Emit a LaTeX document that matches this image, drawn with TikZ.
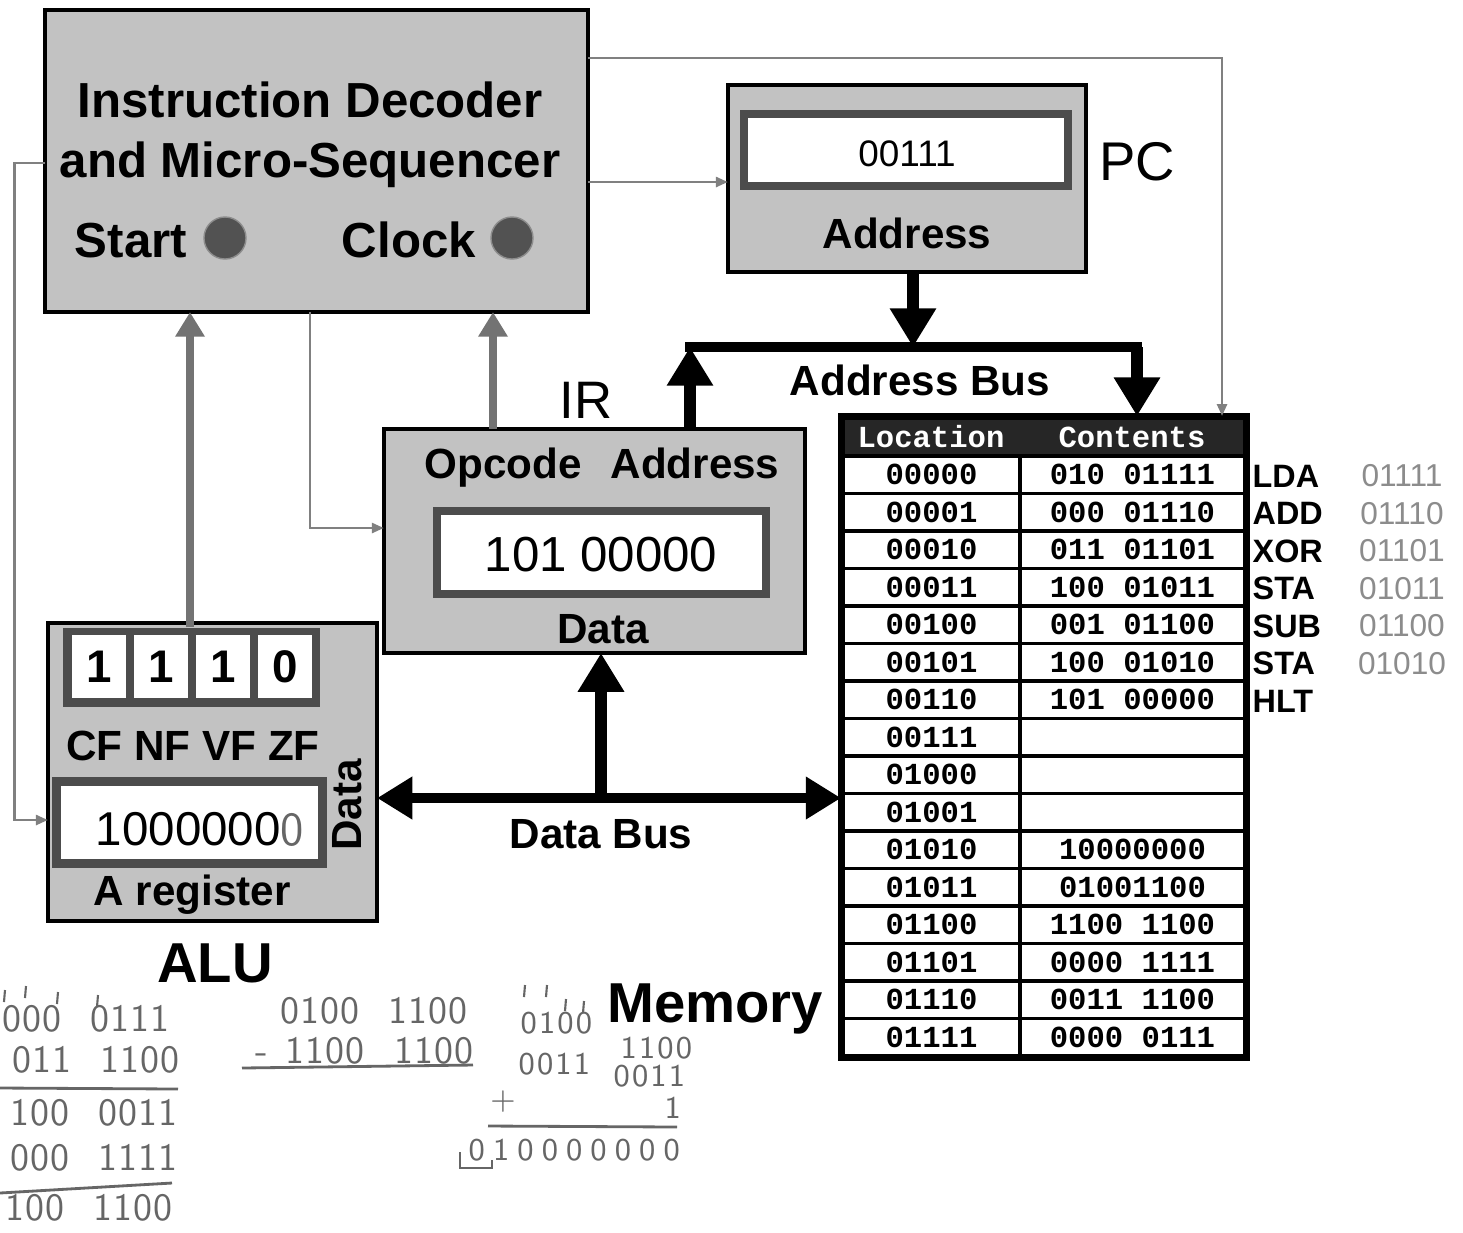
\documentclass[tikz,border=0pt]{standalone}
\usepackage{fontspec}
\setmainfont{Liberation Sans}
\setmonofont{Liberation Mono}
\usetikzlibrary{arrows.meta,positioning}

\definecolor{panel}{gray}{0.76}
\definecolor{frame}{gray}{0.30}
\definecolor{wire}{gray}{0.50}
\definecolor{pencil}{gray}{0.40}

% pencil digits, spread out; / is a wider gap
\newcommand\pencilrow[2][0.3pt]{\def\pencilgap{\hskip#1\relax}\pencilstep#2\relax}
\def\pencilstep#1{\ifx\relax#1\else\ifx/#1\hskip8pt\relax\else#1\pencilgap\fi\expandafter\pencilstep\fi}

\tikzset{
  unit/.style={draw=black, line width=1.3pt, fill=panel, inner sep=0pt, outer sep=0pt},
  reg/.style={draw=frame, line width=2.4pt, fill=white, inner sep=0pt, outer sep=0pt},
  lbl/.style={inner sep=0pt, anchor=base, font=\bfseries\fontsize{12}{14}\selectfont},
  plain/.style={inner sep=0pt, anchor=base, font=\fontsize{15.5}{17}\selectfont},
  lamp/.style={circle, fill=black!68, draw=black!45, minimum size=0.42cm, inner sep=0pt},
  cell/.style={draw=black, line width=1.1pt, fill=white, minimum height=0.375cm, inner sep=0pt,
    font=\ttfamily\bfseries\fontsize{8.7}{10}\selectfont},
  hand/.style={inner sep=0pt, anchor=base west, text=pencil, font=\sffamily\fontsize{11}{13}\selectfont},
  smallhand/.style={hand, font=\sffamily\fontsize{9}{11}\selectfont},
  ctrl/.style={draw=wire, line width=0.8pt, -{Triangle[width=2.8pt,length=3.4pt]}},
  fat/.style={draw=black!55, line width=2.3pt, -{Triangle[width=8pt,length=7pt]}},
  busline/.style={draw=black, line width=2.7pt, line cap=rect},
  bigarrow/.style={draw=black, line width=3.4pt, -{Triangle[width=12.5pt,length=11pt]}},
  databus/.style={draw=black, line width=2.8pt, {Triangle[width=11.5pt,length=10pt]}-{Triangle[width=11.5pt,length=10pt]}},
  stroke/.style={draw=pencil, line width=0.6pt}
}

\begin{document}
\begin{tikzpicture}[x=0.01cm, y=-0.01cm]
  \fill[white] (0,0) rectangle (1463,1232);
  \useasboundingbox (0,0) rectangle (1463,1232);

  %decoder
  \node[unit, minimum width=5.43cm, minimum height=3.02cm] (dec) at (316.5,161) {};
  \node[lbl, font=\bfseries\fontsize{14}{16}\selectfont] (decA) at (310,117) {Instruction Decoder};
  \node[lbl, font=\bfseries\fontsize{14}{16}\selectfont] (decB) at (310,177) {and Micro-Sequencer};
  \node[lbl, font=\bfseries\fontsize{14}{16}\selectfont] (start) at (131,257) {Start};
  \node[lamp] (startlamp) at (225,238) {};
  \node[lbl, font=\bfseries\fontsize{14}{16}\selectfont] (clock) at (409,257) {Clock};
  \node[lamp] (clocklamp) at (512,238) {};

  %program counter
  \node[unit, minimum width=3.58cm, minimum height=1.87cm] (pc) at (907,178.5) {};
  \node[reg, minimum width=3.24cm, minimum height=0.72cm] (pcreg) at (906,150) {};
  \node[inner sep=0pt, anchor=base, font=\fontsize{10.5}{12}\selectfont] (pcval) at (907,166) {00111};
  \node[lbl] (pcaddr) at (907,248) {Address};
  \node[plain] (pcname) at (1137,180) {PC};

  %instruction register
  \node[unit, minimum width=4.21cm, minimum height=2.24cm] (ir) at (594.5,541) {};
  \node[reg, minimum width=3.29cm, minimum height=0.83cm] (irreg) at (601.5,552.5) {};
  \node[plain, font=\fontsize{15}{17}\selectfont] (irname) at (586,418) {IR};
  \node[lbl] (opc) at (503,478) {Opcode};
  \node[lbl] (opa) at (695,478) {Address};
  \node[inner sep=0pt, anchor=base, font=\fontsize{14}{16}\selectfont] (irval) at (601,571) {101 00000};
  \node[lbl] (irdata) at (603,643) {Data};

  %ALU with flags and A register
  \node[unit, minimum width=3.29cm, minimum height=2.98cm] (alu) at (212.5,772) {};
  \node[fill=frame, minimum width=2.57cm, minimum height=0.79cm, inner sep=0pt] (flags) at (191.5,667.5) {};
  \foreach \bit [count=\k from 0] in {1,1,1,0}
    \node[fill=white, minimum width=0.54cm, minimum height=0.63cm, inner sep=0pt,
      font=\bfseries\fontsize{13}{15}\selectfont] (flag\k) at ({99+62*\k},666.5) {\bit};
  \node[lbl] (flagnames) at (193,760) {CF NF VF ZF};
  \node[reg, line width=2.6pt, minimum width=2.66cm, minimum height=0.82cm] (areg) at (189.5,822.5) {};
  \node[inner sep=0pt, anchor=base, font=\fontsize{13.5}{15}\selectfont] (aval) at (200,845)
    {1000000\textcolor{pencil}{\sffamily 0}};
  \node[lbl, anchor=center, rotate=90] (adata) at (347,805) {Data};
  \node[lbl] (aname) at (192,905) {A register};
  \node[lbl, font=\bfseries\fontsize{16}{18}\selectfont] (aluname) at (215,982) {ALU};

  %memory
  \node[fill=black!85, draw=black, line width=1.1pt, minimum width=4.02cm, minimum height=0.38cm,
    inner sep=0pt] (memhead) at (1044,437) {};
  \node[text=white, font=\ttfamily\bfseries\fontsize{8.7}{10}\selectfont] (loch) at (931,437) {Location};
  \node[text=white, font=\ttfamily\bfseries\fontsize{8.7}{10}\selectfont] (valh) at (1132,437) {Contents};
  \foreach \loc/\val [count=\r from 0] in {00000/010 01111, 00001/000 01110, 00010/011 01101,
      00011/100 01011, 00100/001 01100, 00101/100 01010, 00110/101 00000, 00111/{},
      01000/{}, 01001/{}, 01010/10000000, 01011/01001100, 01100/1100 1100,
      01101/0000 1111, 01110/0011 1100, 01111/0000 0111}{
    \node[cell, minimum width=1.77cm] (loc\r) at (931.5,{474.75+37.5*\r}) {\loc};
    \node[cell, minimum width=2.25cm] (val\r) at (1132.5,{474.75+37.5*\r}) {\val};
  }
  \draw[line width=1.6pt] (memhead.north west) rectangle (val15.south east);
  \foreach \op/\arg [count=\r from 0] in {LDA/01111, ADD/01110, XOR/01101, STA/01011,
      SUB/01100, STA/01010, HLT/{}}{
    \node[inner sep=0pt, anchor=west, font=\bfseries\fontsize{9.2}{11}\selectfont] (op\r)
      at (1252,{476+37.5*\r}) {\op};
    \node[inner sep=0pt, text=black!45, font=\fontsize{9}{11}\selectfont] (arg\r)
      at (1402,{476+37.5*\r}) {\arg};
  }
  \node[lbl, font=\bfseries\fontsize{16}{18}\selectfont] (memname) at (715,1022) {Memory};

  %control lines
  \draw[ctrl] (dec.east |- 0,58) -| ([xshift=-0.25cm]memhead.north east);
  \draw[ctrl] (dec.east |- 0,182) -- (pc.west |- 0,182);
  \draw[ctrl] (dec.west |- 0,163) -- ++(-30,0) |- (alu.west |- 0,820);
  \draw[ctrl] (dec.south -| 310,0) |- (ir.west |- 0,528);
  \draw[fat] (flags.north -| 190,0) -- (dec.south -| 190,0);
  \draw[fat] (ir.north -| 493,0) -- (dec.south -| 493,0);

  %address bus
  \coordinate (abusL) at (690,347);
  \coordinate (abusR) at (1137,347);
  \draw[busline] (abusL) -- (abusR);
  \draw[bigarrow] (pc.south -| 913,0) -- (abusR -| 913,0);
  \draw[bigarrow] (ir.north -| abusL) -- (abusL);
  \draw[bigarrow] (abusR) -- (memhead.north -| abusR);
  \node[lbl] (abusname) at (920,395) {Address Bus};

  %data bus
  \coordinate (dbus) at (601,798);
  \draw[databus] (alu.east |- dbus) -- (loc0.west |- dbus);
  \draw[bigarrow] (dbus) -- (ir.south -| dbus);
  \node[lbl] (dbusname) at (601,848) {Data Bus};

  %pencil notes
  \foreach \tx/\ty in {5/990, 26/986, 58/992, 98/995, 525/985, 547/985, 566/999, 584/1001}
    \draw[stroke] (\tx,\ty) -- ++(-1,12);
  \node[hand] (hw1) at (2,1031) {\pencilrow{000/0111}};
  \node[hand] (hw2) at (12,1072) {\pencilrow{011/1100}};
  \node[hand] (hw3) at (10,1125) {\pencilrow{100/0011}};
  \node[hand] (hw4) at (10,1170) {\pencilrow{000/1111}};
  \node[hand] (hw5) at (5,1220) {\pencilrow{100/1100}};
  \draw[stroke, line width=0.8pt] (0,1088) -- (178,1089);
  \draw[stroke, line width=0.8pt] (0,1193) -- (172,1183);
  \node[hand] (hw6) at (280,1023) {\pencilrow{0100/1100}};
  \node[hand] (hw7) at (255,1063) {-\hskip5pt\pencilrow{1100/1100}};
  \draw[stroke, line width=0.8pt] (242,1068) -- (473,1065);
  \node[smallhand] (hw8) at (520,1033) {\pencilrow[0.6pt]{0100}};
  \node[smallhand] (hw9) at (620,1058) {\pencilrow[0.6pt]{1100}};
  \node[smallhand] (hw10) at (518,1074) {\pencilrow[0.6pt]{0011}};
  \node[smallhand] (hw11) at (613,1086) {\pencilrow[0.6pt]{0011}};
  \node[smallhand, anchor=center] (hw12) at (503,1102) {+};
  \node[smallhand] (hw13) at (664,1118) {1};
  \draw[stroke, line width=0.8pt] (488,1126) -- (677,1127);
  \node[smallhand] (hw14) at (468,1160) {\pencilrow[2.3pt]{010000000}};
  \draw[stroke, line width=0.8pt] (460,1152) -- (460,1168) -- (492,1168) -- (492,1160);
\end{tikzpicture}
\end{document}
